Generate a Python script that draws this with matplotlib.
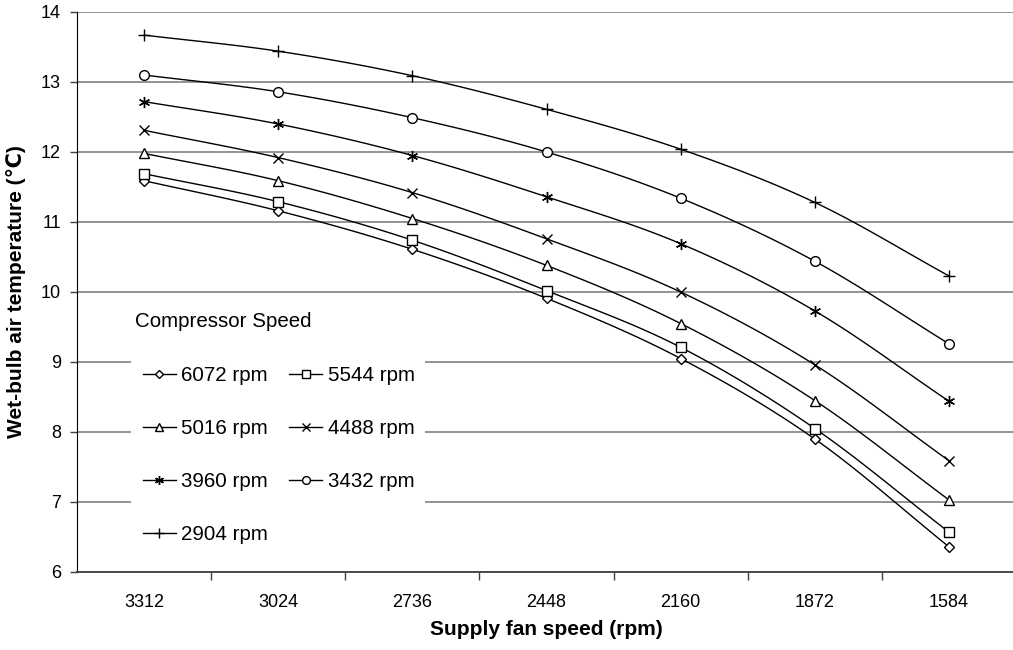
import numpy as np
import matplotlib
matplotlib.use("Agg")
import matplotlib.pyplot as plt
from matplotlib.patches import Rectangle

plt.rcParams['font.family'] = ['Liberation Sans', 'DejaVu Sans']

# supply fan speed categories (rpm), plotted left to right
fan_speed = ['3312', '3024', '2736', '2448', '2160', '1872', '1584']

# wet-bulb air temperature for each compressor speed
wb_6072 = [11.59, 11.16, 10.61, 9.91, 9.05, 7.90, 6.36]
wb_5544 = [11.69, 11.29, 10.74, 10.02, 9.21, 8.05, 6.57]
wb_5016 = [11.98, 11.59, 11.05, 10.38, 9.55, 8.45, 7.03]
wb_4488 = [12.31, 11.92, 11.42, 10.76, 10.00, 8.96, 7.59]
wb_3960 = [12.72, 12.40, 11.95, 11.36, 10.69, 9.73, 8.44]
wb_3432 = [13.10, 12.86, 12.49, 12.00, 11.34, 10.44, 9.26]
wb_2904 = [13.67, 13.44, 13.09, 12.61, 12.04, 11.28, 10.23]

series = [
    ('6072 rpm', wb_6072, 'D', 5.0),
    ('5544 rpm', wb_5544, 's', 6.5),
    ('5016 rpm', wb_5016, '^', 7.0),
    ('4488 rpm', wb_4488, 'x', 7.0),
    ('3960 rpm', wb_3960, (6, 2, 0), 8.0),
    ('3432 rpm', wb_3432, 'o', 7.0),
    ('2904 rpm', wb_2904, '+', 9.0),
]


def smooth(x, y, n=20):
    # catmull-rom like the office "smoothed line"
    x = np.asarray(x, float)
    y = np.asarray(y, float)
    px = np.concatenate([[2 * x[0] - x[1]], x, [2 * x[-1] - x[-2]]])
    py = np.concatenate([[2 * y[0] - y[1]], y, [2 * y[-1] - y[-2]]])
    xs, ys = [], []
    t = np.linspace(0, 1, n, endpoint=False)
    for i in range(1, len(px) - 2):
        mx0 = (px[i + 1] - px[i - 1]) / 2
        mx1 = (px[i + 2] - px[i]) / 2
        my0 = (py[i + 1] - py[i - 1]) / 2
        my1 = (py[i + 2] - py[i]) / 2
        h00 = 2 * t**3 - 3 * t**2 + 1
        h10 = t**3 - 2 * t**2 + t
        h01 = -2 * t**3 + 3 * t**2
        h11 = t**3 - t**2
        xs.append(h00 * px[i] + h10 * mx0 + h01 * px[i + 1] + h11 * mx1)
        ys.append(h00 * py[i] + h10 * my0 + h01 * py[i + 1] + h11 * my1)
    xs.append([x[-1]])
    ys.append([y[-1]])
    return np.concatenate(xs), np.concatenate(ys)


fig = plt.figure(figsize=(10.13, 6.5), dpi=100)
ax = fig.add_axes([77 / 1013, 1 - 572 / 650, 939 / 1013, 560 / 650])

x = np.arange(len(fan_speed))
handles = {}
for name, vals, mk, ms in series:
    sx, sy = smooth(x, vals)
    ax.plot(sx, sy, color='black', lw=1.0, zorder=3)
    ax.plot(x, vals, ls='none', marker=mk, ms=ms, mfc='white', mec='black',
            mew=1.0, zorder=4)
    h, = ax.plot([], [], color='black', lw=1.0, marker=mk, ms=ms * 0.8,
                 mfc='white', mec='black', mew=1.0, label=name)
    handles[name] = h

ax.set_xlim(-0.5, 6.5)
ax.set_ylim(6, 14)
ax.set_yticks(range(6, 15))
ax.set_xticks(x)
ax.set_xticklabels(fan_speed)
ax.set_xticks(np.arange(0.5, 6.5, 1), minor=True)
ax.tick_params(axis='x', which='major', length=0, pad=16, labelsize=13)
ax.tick_params(axis='x', which='minor', length=6, width=1, color='#404040',
               direction='out')
ax.tick_params(axis='y', length=5, width=1, color='#404040', pad=6.5,
               labelsize=13)
ax.grid(axis='y', color='#808080', lw=1.2)
ax.set_axisbelow(True)
for s in ['top', 'right']:
    ax.spines[s].set_visible(False)
ax.spines['left'].set_color('black')
ax.spines['bottom'].set_color('#404040')
ax.spines['bottom'].set_linewidth(1.3)

ax.set_xlabel('Supply fan speed (rpm)', fontsize=15, fontweight='bold',
              labelpad=6)
ax.set_ylabel('Wet-bulb air temperature (℃)', fontsize=15, fontweight='bold',
              labelpad=11)

# white block behind the legend
ax.add_patch(Rectangle((131 / 1013, 1 - 560 / 650), 294 / 1013, 258 / 650,
                       transform=fig.transFigure, facecolor='white',
                       edgecolor='none', zorder=2))
fig.text(135 / 1013, 1 - 322 / 650, 'Compressor Speed', fontsize=14.8,
         va='center', ha='left')

# legend filled row by row: 6072 5544 / 5016 4488 / 3960 3432 / 2904
order = ['6072 rpm', '5016 rpm', '3960 rpm', '2904 rpm',
         '5544 rpm', '4488 rpm', '3432 rpm']
leg = ax.legend([handles[k] for k in order], order, ncol=2, loc='upper left',
                bbox_to_anchor=(143 / 1013, 1 - 366 / 650),
                bbox_transform=fig.transFigure, frameon=False,
                fontsize=14.8, borderpad=0, borderaxespad=0,
                handlelength=1.6, handletextpad=0.25, columnspacing=1.05,
                labelspacing=1.65)
leg.set_zorder(5)

fig.savefig('out.png', dpi=100)
